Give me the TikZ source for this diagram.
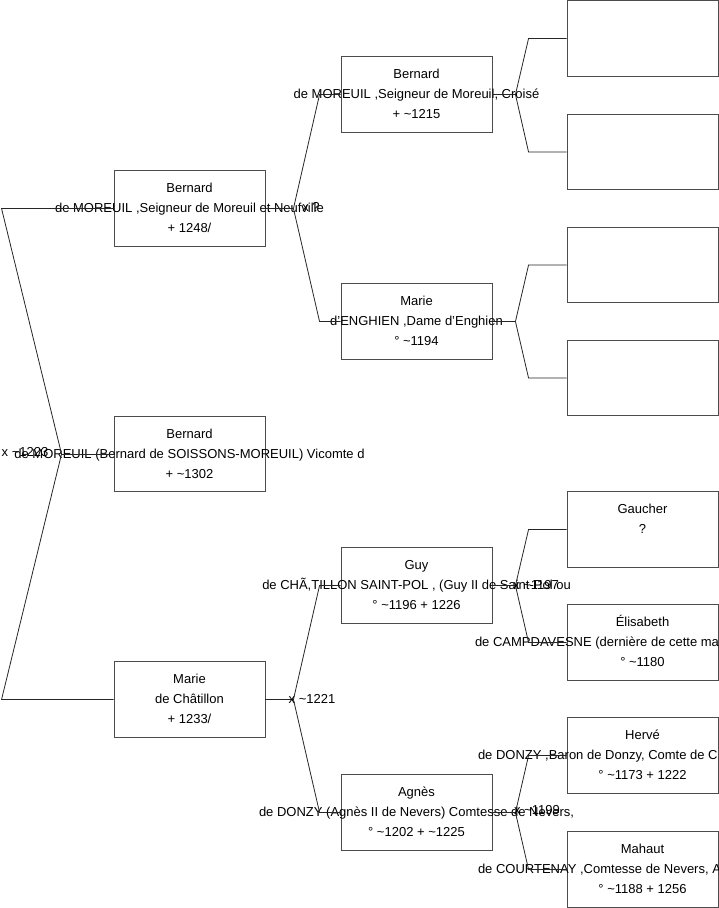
\documentclass[tikz,border=0pt]{standalone}
\usepackage{fontspec}
\setmainfont{Liberation Sans}
\usetikzlibrary{positioning}

% one line of a person box, allowed to run past the frame
\newcommand{\spill}[1]{\makebox[0pt]{\strut #1}}
\newcommand{\spillat}[2]{\makebox[0pt][l]{\hspace*{#1}\strut #2}}
\newcommand{\ca}{\textasciitilde}

\begin{document}
\begin{tikzpicture}[
  x=1pt, y=-1pt,
  every node/.style={font=\fontsize{13pt}{20pt}\selectfont},
  person/.style={rectangle, draw=black!70, line width=0.9pt, minimum width=151pt, minimum height=75.5pt, inner sep=0pt, align=center},
  link/.style={draw=black!85, line width=0.8pt},
  union/.style={inner sep=0pt},
]
\useasboundingbox (0,0) rectangle (719,908);
\clip (0,0) rectangle (719,908);

% First column
\node[person] (b1) at (189.5,208.5) {\spill{Bernard}\\\spill{de MOREUIL ,Seigneur de Moreuil et Neufville}\\\spill{+ 1248/}};
\node[person] (b0) at (189.5,454) {\spill{Bernard}\\\spill{de MOREUIL (Bernard de SOISSONS-MOREUIL) Vicomte d}\\\spill{+ \ca1302}};
\node[person] (m1) at (189.5,699.5) {\spill{Marie}\\\spill{de Châtillon}\\\spill{+ 1233/}};

% Second column
\node[person] (b2) at (416.5,94.5) {\spill{Bernard}\\\spill{de MOREUIL ,Seigneur de Moreuil, Croisé}\\\spill{+ \ca1215}};
\node[person] (e2) at (416.5,321.5) {\spill{Marie}\\\spill{d'ENGHIEN ,Dame d'Enghien}\\\spill{° \ca1194}};
\node[person] (g2) at (416.5,585.5) {\spill{Guy}\\\spill{de CHÃ,TILLON SAINT-POL , (Guy II de Saint-Pol ou}\\\spill{° \ca1196 + 1226}};
\node[person] (a2) at (416.5,812.5) {\spill{Agnès}\\\spill{de DONZY (Agnès II de Nevers) Comtesse de Nevers,}\\\spill{° \ca1202 + \ca1225}};

% Third column
\node[person] (u1) at (642.5,38.5) {};
\node[person] (u2) at (642.5,152) {};
\node[person] (u3) at (642.5,265) {};
\node[person] (u4) at (642.5,378) {};
\node[person] (ga) at (642.5,529.5) {\spill{Gaucher}\\\spill{?}\\\spill{}};
\node[person] (el) at (642.5,642.5) {\spill{Élisabeth}\\\spillat{-167.5pt}{de CAMPDAVESNE (dernière de cette ma}\\\spill{° \ca1180}};
\node[person] (he) at (642.5,755.5) {\spill{Hervé}\\\spillat{-164.5pt}{de DONZY ,Baron de Donzy, Comte de C}\\\spill{° \ca1173 + 1222}};
\node[person] (ma) at (642.5,869.5) {\spill{Mahaut}\\\spillat{-164.5pt}{de COURTENAY ,Comtesse de Nevers, A}\\\spill{° \ca1188 + 1256}};

% Parents of the middle Bernard
\coordinate (r0) at ([xshift=-52pt]b0.west);
\draw[link] (b1.west) -- ([xshift=-112pt]b1.west) -- (r0) -- ([xshift=-112pt]m1.west) -- (m1.west);
\draw[link] (r0) -- (b0.west);
\node[union] (x0) at (25,452) {x \ca1223};

% Parents in the second column
\coordinate (r1) at ([xshift=28pt]b1.east);
\draw[link] (b1.east) -- (r1);
\draw[link] (b2.west) -- ([xshift=-21pt]b2.west) -- (r1) -- ([xshift=-21pt]e2.west) -- (e2.west);
\node[union] (x1) at (311,207) {x ?};

\coordinate (r2) at ([xshift=28pt]m1.east);
\draw[link] (m1.east) -- (r2);
\draw[link] (g2.west) -- ([xshift=-21pt]g2.west) -- (r2) -- ([xshift=-21pt]a2.west) -- (a2.west);
\node[union] (x2) at (312,699) {x \ca1221};

% Parents in the third column
\coordinate (r3) at ([xshift=23pt]b2.east);
\draw[link] (b2.east) -- (r3);
\draw[link] (u1.west) -- ([xshift=-38pt]u1.west) -- (r3) -- ([xshift=-38pt]u2.west) -- (u2.west);

\coordinate (r4) at ([xshift=23pt]e2.east);
\draw[link] (e2.east) -- (r4);
\draw[link] (u3.west) -- ([xshift=-38pt]u3.west) -- (r4) -- ([xshift=-38pt]u4.west) -- (u4.west);

\coordinate (r5) at ([xshift=23pt]g2.east);
\draw[link] (g2.east) -- (r5);
\draw[link] (ga.west) -- ([xshift=-38pt]ga.west) -- (r5) -- ([xshift=-38pt]el.west) -- (el.west);
\node[union] (x3) at (536,585) {x \ca1197};

\coordinate (r6) at ([xshift=23pt]a2.east);
\draw[link] (a2.east) -- (r6);
\draw[link] (he.west) -- ([xshift=-38pt]he.west) -- (r6) -- ([xshift=-38pt]ma.west) -- (ma.west);
\node[union] (x4) at (537,810) {x \ca1199};

\end{tikzpicture}
\end{document}
